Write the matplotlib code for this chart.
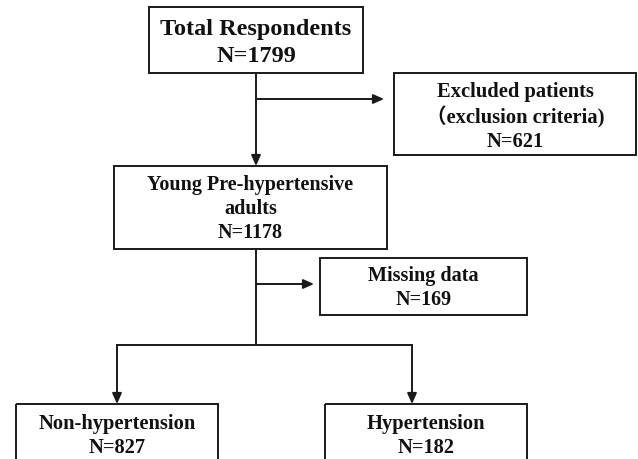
import matplotlib.pyplot as plt
from matplotlib.patches import Rectangle

# Textos e contagens do fluxograma
rotulos = ['Total Respondents',
           'Excluded patients\n\uff08exclusion criteria)',
           'Young Pre-hypertensive\nadults',
           'Missing data',
           'Non-hypertension',
           'Hypertension']
contagens = [1799, 621, 1178, 169, 827, 182]

# Caixas: (x0, y0, x1, y1) em pixels, y para baixo
caixas = [(149, 7, 363, 73),
          (394, 73, 636, 155),
          (114, 166, 387, 249),
          (320, 258, 527, 315),
          (16, 404, 218, 480),
          (325, 404, 527, 480)]
tamanhos = [17.5, 14.8, 14.5, 14.5, 14.8, 14.8]
espacos = [1.4, 1.27, 1.27, 1.27, 1.27, 1.27]
centros_texto = [43, 117, 209, 288, 436, 436]

COR = '#1a1a1a'
FONTE = ['Liberation Serif', 'Noto Sans CJK SC']

fig = plt.figure(figsize=(6.38, 4.59), dpi=100)
ax = fig.add_axes([0, 0, 1, 1])
ax.set_xlim(0, 638)
ax.set_ylim(459, 0)
ax.axis('off')

for (x0, y0, x1, y1), rot, n, fs, ls, yc in zip(caixas, rotulos, contagens, tamanhos, espacos, centros_texto):
    ax.add_patch(Rectangle((x0, y0), x1 - x0, y1 - y0, fill=False,
                           edgecolor=COR, linewidth=1.4))
    ax.text((x0 + x1) / 2, yc, f'{rot}\nN={n}', ha='center', va='center',
            fontsize=fs, fontweight='bold', family=FONTE, color='#111111',
            linespacing=ls)

seta = dict(arrowstyle='-|>,head_length=0.45,head_width=0.2', color=COR,
            lw=1.4, shrinkA=0, shrinkB=0, mutation_scale=14)

# Tronco principal
xc = 256
ax.annotate('', xy=(xc, 166), xytext=(xc, 73), arrowprops=seta)
ax.annotate('', xy=(384, 99), xytext=(xc, 99), arrowprops=seta)
ax.plot([xc, xc], [249, 345], color=COR, lw=1.4)
ax.annotate('', xy=(314, 284), xytext=(xc, 284), arrowprops=seta)

# Ramificação final
ax.plot([117, 412], [345, 345], color=COR, lw=1.4)
ax.annotate('', xy=(117, 404), xytext=(117, 345), arrowprops=seta)
ax.annotate('', xy=(412, 404), xytext=(412, 345), arrowprops=seta)

fig.savefig('out.png', dpi=100)
